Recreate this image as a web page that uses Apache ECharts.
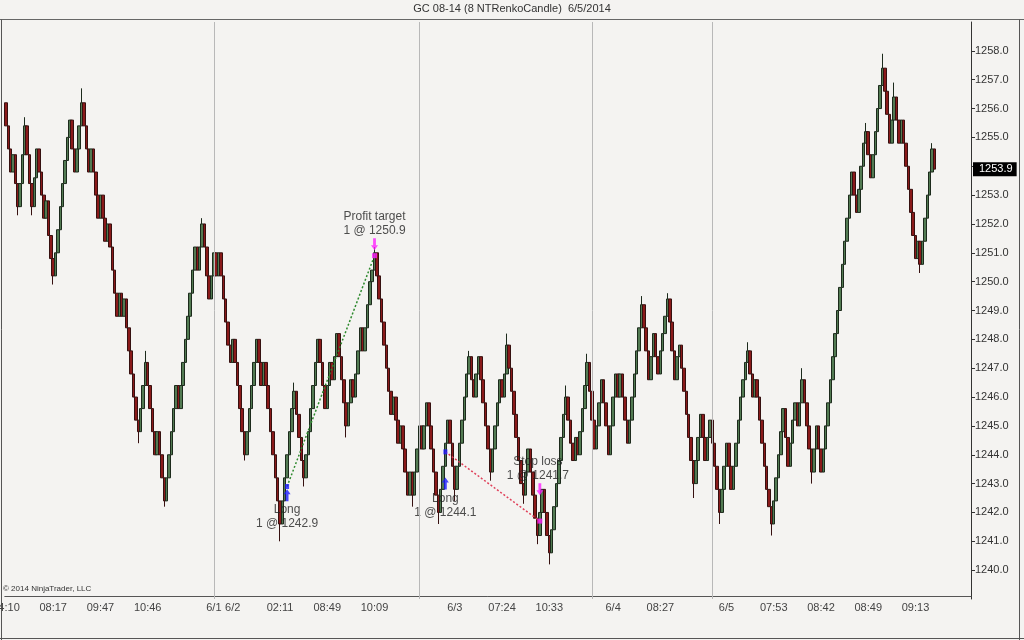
<!DOCTYPE html>
<html><head><meta charset="utf-8">
<script src="https://cdn.jsdelivr.net/npm/echarts@6/dist/echarts.min.js"></script>
<style>html,body{margin:0;padding:0;background:#f4f3f1;}#c{width:1024px;height:640px;}</style>
</head><body><div id="c"></div>
<script>
// ---- data ----
const chartTitle = 'GC 08-14 (8 NTRenkoCandle)  6/5/2014';
const firstOpen = 1256.2;
const closes = [
1255.4,1254.6,1253.8,1254.4,1253.4,1252.6,1253.4,1254.4,1255.4,1254.4,
1253.4,1252.6,1253.6,1254.6,1253.8,1253.0,1252.2,1252.8,1251.6,1250.8,
1250.2,1251.0,1251.8,1252.6,1253.4,1254.2,1255.0,1255.6,1254.6,1253.8,
1254.6,1255.4,1256.2,1255.4,1254.6,1253.8,1254.6,1253.8,1253.0,1252.2,
1253.0,1252.2,1251.4,1252.0,1251.2,1250.4,1249.6,1248.8,1249.6,1248.8,
1249.4,1248.4,1247.6,1246.8,1246.0,1245.2,1244.8,1245.6,1246.4,1247.2,
1246.4,1245.6,1244.8,1244.0,1244.8,1244.0,1243.2,1242.4,1243.2,1244.0,
1244.8,1245.6,1246.4,1245.6,1246.4,1247.2,1248.0,1248.8,1249.6,1250.4,
1251.2,1250.4,1251.2,1252.0,1251.2,1250.2,1249.4,1250.2,1251.0,1250.2,
1251.0,1250.2,1249.4,1248.6,1247.8,1247.2,1248.0,1247.2,1246.4,1245.6,
1244.8,1244.0,1244.8,1245.6,1246.4,1247.2,1248.0,1247.2,1246.4,1247.2,
1246.4,1245.6,1244.8,1244.0,1243.2,1242.4,1241.6,1242.4,1243.2,1244.0,
1244.8,1245.6,1246.2,1245.4,1244.6,1243.8,1243.2,1244.0,1244.8,1245.6,
1246.4,1247.2,1248.0,1247.2,1246.4,1245.6,1246.4,1247.2,1246.6,1247.4,
1248.2,1247.4,1246.6,1245.8,1245.0,1245.8,1246.6,1246.0,1246.8,1247.6,
1248.4,1247.6,1248.4,1249.2,1250.0,1250.4,1251.0,1250.2,1249.4,1248.6,
1247.8,1247.0,1246.2,1245.4,1246.0,1245.2,1244.4,1245.0,1244.2,1243.4,
1242.6,1243.4,1242.6,1243.4,1244.2,1245.0,1244.2,1245.0,1245.8,1245.0,
1244.2,1243.4,1242.6,1242.0,1242.8,1243.6,1244.4,1245.2,1244.4,1243.6,
1242.8,1243.6,1244.4,1245.2,1246.0,1246.8,1247.4,1246.6,1246.0,1246.8,
1247.4,1246.6,1245.8,1245.0,1244.2,1243.4,1244.2,1245.0,1245.8,1246.6,
1246.0,1246.8,1247.8,1247.0,1246.2,1245.4,1244.6,1243.8,1243.0,1242.6,
1243.4,1244.2,1243.4,1242.6,1241.8,1241.2,1242.0,1242.8,1242.0,1241.2,
1240.6,1241.4,1242.2,1243.0,1243.8,1244.6,1245.4,1246.0,1245.2,1244.4,
1243.8,1244.6,1244.0,1244.8,1245.6,1246.4,1247.2,1246.2,1245.2,1244.2,
1245.0,1245.8,1246.6,1245.8,1245.0,1244.0,1245.0,1246.0,1246.8,1246.0,
1246.8,1246.0,1245.2,1244.4,1245.2,1246.0,1246.8,1247.6,1248.4,1249.2,
1248.4,1247.6,1246.6,1247.4,1248.2,1247.4,1246.8,1247.6,1248.2,1248.8,
1249.4,1248.6,1247.6,1246.6,1247.4,1247.8,1247.0,1246.2,1245.4,1244.6,
1243.8,1243.0,1243.8,1244.6,1245.4,1244.6,1243.8,1244.6,1245.2,1244.4,
1243.6,1242.8,1242.0,1242.8,1243.6,1244.4,1243.6,1242.8,1243.6,1244.4,
1245.2,1246.0,1246.6,1247.2,1247.6,1246.8,1246.0,1246.6,1246.0,1245.2,
1244.4,1243.6,1242.8,1242.2,1241.6,1242.4,1243.2,1244.0,1244.8,1245.6,
1244.6,1243.6,1244.4,1245.2,1245.8,1245.0,1245.8,1246.6,1245.8,1245.0,
1244.2,1243.4,1244.2,1245.0,1244.2,1243.4,1244.2,1245.0,1245.8,1246.6,
1247.4,1248.2,1249.0,1249.8,1250.6,1251.4,1252.2,1253.0,1253.8,1253.0,
1252.4,1253.2,1254.0,1254.8,1255.2,1254.4,1253.6,1254.4,1255.2,1256.0,
1256.8,1257.4,1256.6,1255.8,1254.8,1255.6,1256.4,1255.6,1254.8,1255.6,
1254.8,1254.0,1253.2,1252.4,1251.6,1250.8,1251.4,1250.6,1251.4,1252.2,
1253.0,1253.8,1254.6,1253.9
];
// notable wicks [bar, price]
const wickHighs = [[8,1255.7],[32,1256.7],[59,1247.6],[83,1252.2],[122,1246.5],[156,1251.2],[196,1247.6],[212,1248.2],[237,1246.4],[246,1247.5],[269,1249.5],[280,1249.6],[314,1247.9],[337,1247.0],[364,1255.5],[371,1257.9],[376,1256.9],[392,1254.8]];
const wickLows = [[5,1252.3],[11,1252.3],[20,1249.9],[56,1244.4],[67,1242.2],[101,1243.8],[116,1241.0],[126,1242.9],[144,1244.6],[172,1242.2],[183,1241.6],[190,1242.4],[205,1243.1],[219,1242.3],[225,1240.9],[230,1240.2],[291,1242.5],[302,1241.6],[324,1241.2],[341,1243.0],[387,1250.3]];
const slotCount = 409;
const tickIdx  = [0,20,40,60,80,88,96,116,136,156,176,190,210,230,250,257,277,297,305,325,345,365,385];
const tickText = ['04:10','08:17','09:47','10:46','','6/1','6/2','02:11','08:49','10:09','','6/3','07:24','10:33','','6/4','08:27','','6/5','07:53','08:42','08:49','09:13'];
const sessionBreaks = [88,175,248,299];
const yTicks = {min:1239, max:1259, step:1};
const lastPrice = 1253.9;
// trades
const tradeEntries = [[119,1242.9],[186,1244.1]];
const tradeExits   = [[156,1250.9],[226,1241.7]];
const buyArrows  = [[119,1242.6],[186,1243.0]];
const sellArrows = [[156,1251.3],[226,1242.8]];
const noteTexts = ['Long\n1 @ 1242.9','Profit target\n1 @ 1250.9','Long\n1 @ 1244.1','Stop loss\n1 @ 1241.7'];
const notePoints = [[119,1242.9],[156,1250.9],[186,1244.1],[226,1241.7]];
const copyright = '\u00a9 2014 NinjaTrader, LLC';

// ---- build ----
const opens = closes.map((c,i)=> i===0 ? firstOpen : closes[i-1]);
const hiMap = Object.fromEntries(wickHighs), loMap = Object.fromEntries(wickLows);
const ohlc = closes.map((c,i)=>{
  const o = opens[i];
  const lo = Math.min(o,c, loMap[i] !== undefined ? loMap[i] : Infinity);
  const hi = Math.max(o,c, hiMap[i] !== undefined ? hiMap[i] : -Infinity);
  return [o,c,lo,hi];
});
const cats = Array.from({length:slotCount},(_,i)=>{const k=tickIdx.indexOf(i);return k>=0?tickText[k]:'';});
const isTick = (i)=> tickIdx.indexOf(i) >= 0;
const upArrow = 'path://M5,0 L10,5 L7,5 L7,12 L3,12 L3,5 L0,5 Z';
const noteOffsets = [[0,30],[0,-32],[0,54],[-2,-52]];
const FONT = '"Liberation Sans", Arial, sans-serif';

const chart = echarts.init(document.getElementById('c'), null, {renderer:'canvas'});
chart.setOption({
  animation:false,
  backgroundColor:'#f4f3f1',
  textStyle:{fontFamily:FONT},
  title:{text:chartTitle,left:'center',top:3,padding:0,textStyle:{fontSize:11,fontWeight:'normal',color:'#333',fontFamily:FONT}},
  grid:{left:4.8,right:53,top:22,bottom:41,outerBoundsMode:'none',containLabel:false},
  xAxis:{type:'category',data:cats,boundaryGap:true,offset:-3,
    axisLine:{lineStyle:{color:'#555'}},
    axisTick:{interval:(i)=>isTick(i),alignWithLabel:true,length:4,lineStyle:{color:'#555'}},
    axisLabel:{interval:(i)=>isTick(i),color:'#444',fontSize:11,margin:6},
    splitLine:{show:false}},
  yAxis:{type:'value',position:'right',min:yTicks.min,max:yTicks.max,interval:yTicks.step,
    axisLine:{show:true,lineStyle:{color:'#333'}},
    axisTick:{show:true,length:4,lineStyle:{color:'#333'}},
    axisLabel:{formatter:(v)=>Math.abs(v-lastPrice)<0.5?'':v.toFixed(1),color:'#333',fontSize:11,margin:4,showMinLabel:false,showMaxLabel:false},
    splitLine:{show:false}},
  series:[
    {type:'candlestick',data:ohlc,barWidth:3,
      itemStyle:{color:'#527a52',color0:'#8a1a1a',borderColor:'#1c2a1c',borderColor0:'#361010',borderWidth:1},
      markLine:{silent:true,symbol:'none',animation:false,z:20,
        data:[
          ...sessionBreaks.map(b=>({xAxis:b,lineStyle:{color:'#b8b8b8',width:1,type:'solid'},label:{show:false}})),
          {yAxis:lastPrice,lineStyle:{color:'rgba(0,0,0,0)',width:0},label:{show:true,position:'end',distance:2,formatter:lastPrice.toFixed(1),
            color:'#fff',backgroundColor:'#000',padding:[2,4,1,6],fontSize:11}}
        ]}},
    {type:'line',data:[tradeEntries[0],tradeExits[0]],symbol:'none',z:5,
      lineStyle:{color:'#2e8a2e',width:1.5,type:[2,2]}},
    {type:'line',data:[tradeEntries[1],tradeExits[1]],symbol:'none',z:5,
      lineStyle:{color:'#e0405a',width:1.5,type:[2,2]}},
    {type:'scatter',data:buyArrows,symbol:upArrow,symbolSize:[7,12],z:6,itemStyle:{color:'#1a1aff'}},
    {type:'scatter',data:sellArrows,symbol:upArrow,symbolRotate:180,symbolSize:[7,12],z:6,itemStyle:{color:'#ff20ff'}},
    {type:'scatter',data:tradeEntries,symbol:'rect',symbolSize:[4,5],z:6,itemStyle:{color:'#1a1aff'}},
    {type:'scatter',data:tradeExits,symbol:'rect',symbolSize:[5,5],z:6,itemStyle:{color:'#ff20ff'}},
    {type:'scatter',z:10,symbolSize:1,itemStyle:{color:'rgba(0,0,0,0)'},
      data:notePoints.map((p,i)=>({value:p,label:{show:true,position:'inside',formatter:noteTexts[i],offset:noteOffsets[i],
        fontSize:12,lineHeight:14,color:'#222',align:'center',fontFamily:FONT}}))}
  ],
  graphic:[
    {type:'line',shape:{x1:0,y1:19.5,x2:1024,y2:19.5},style:{stroke:'#666',lineWidth:1},silent:true},
    {type:'line',shape:{x1:1.5,y1:19.5,x2:1.5,y2:640},style:{stroke:'#555',lineWidth:1},silent:true},
    {type:'line',shape:{x1:0,y1:638.5,x2:1024,y2:638.5},style:{stroke:'#555',lineWidth:1},silent:true},
    {type:'line',shape:{x1:1019.5,y1:19.5,x2:1019.5,y2:640},style:{stroke:'#555',lineWidth:1},silent:true},
    {type:'text',left:3,top:585,style:{text:copyright,fontSize:8,fill:'#333',fontFamily:FONT}}
  ]
});
</script></body></html>
